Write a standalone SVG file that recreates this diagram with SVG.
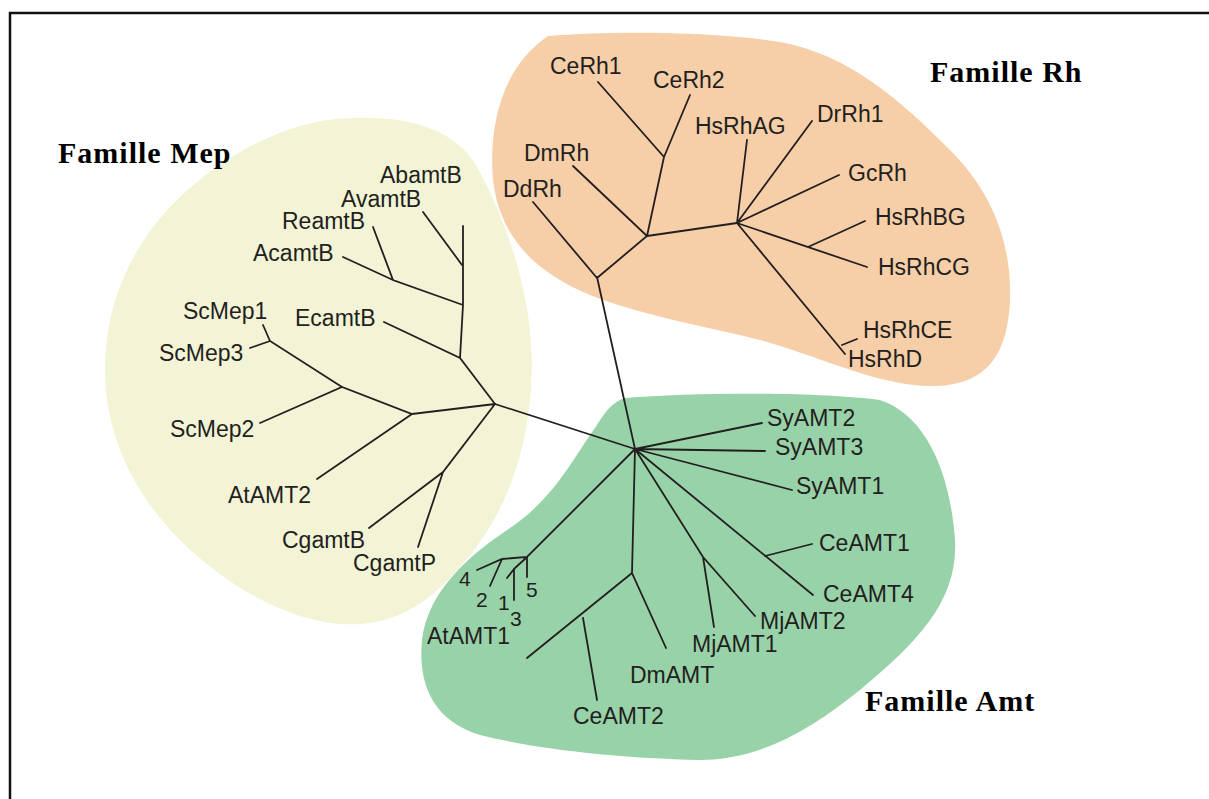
<svg xmlns="http://www.w3.org/2000/svg" width="1209" height="799" viewBox="0 0 1209 799">
<style>
.lab{font-family:"Liberation Sans",Arial,sans-serif;font-size:23px;fill:#231f20}
.num{font-family:"Liberation Sans",Arial,sans-serif;font-size:21px;fill:#231f20}
.fam{font-family:"Liberation Serif","Times New Roman",serif;font-size:30px;font-weight:bold;fill:#000;letter-spacing:1px}
.br{stroke:#231f20;stroke-width:1.8;fill:none;stroke-linecap:round}
</style>
<rect width="1209" height="799" fill="#fff"/>
<g id="frame" stroke="#111" stroke-width="2.5" fill="none">
<path d="M10,799 V13 H1209"/>
</g>
<g id="regions">
<path id="region-mep" fill="#f3f4d6" d="M350,118 C410,115 455,130 476,165 C500,208 530,280 532,360 C532,430 515,500 470,555 C440,592 410,620 360,624 C300,628 230,590 180,540 C130,490 105,430 105,370 C105,300 135,235 190,188 C240,145 295,120 350,118 Z"/>
<path id="region-rh" fill="#f6cea8" d="M548,36 C620,30 720,32 780,42 C850,55 900,100 950,150 C990,190 1012,240 1010,300 C1008,350 990,385 935,386 C880,387 830,360 760,340 C700,325 640,315 590,295 C535,272 500,238 493,180 C488,120 505,65 548,36 Z"/>
<path id="region-amt" fill="#98d2a8" d="M625,398 C700,392 820,392 880,400 C925,415 950,470 955,540 C958,600 920,640 860,690 C810,730 760,760 700,760 C620,758 540,750 480,735 C430,720 418,680 422,640 C428,590 470,555 510,528 C555,498 575,455 595,428 C605,412 612,402 625,398 Z"/>
</g>
<g id="connectors" class="br">
<path d="M495,404 L635,449 M597,277 L635,449"/>
<path d="M597,278 L533,202 M597,278 L647,236 L573,166 M647,236 L664,157 L598,82 M664,157 L690,95 M647,236 L737,223"/>
<path d="M737,223 L747,140 M737,223 L812,121 M737,223 L839,175 M737,223 L867,267 M808,247 L865,221 M737,223 L845,354 M842,345 L857,339"/>
<path d="M495,404 L460,358 L384,322 M460,358 L463,305 L463,226 M462,265 L423,212 M463,305 L393,280 L373,227 M393,280 L343,257"/>
<path d="M495,404 L412,414 L342,387 L260,423 M342,387 L270,341 L263,325 M270,341 L250,348 M412,414 L317,479 M495,404 L443,472 L369,528 M443,472 L418,547"/>
<path d="M635,449 L762,423 M635,449 L765,451 M635,449 L792,490 M635,449 L813,595 M765,556 L812,544 M635,449 L703,557 L755,616 M703,557 L714,627"/>
<path d="M635,449 L632,573 L666,648 M632,573 L527,658 M583,618 L597,700"/>
<path d="M635,449 L527,557 L502,559 L477,570 M502,559 L490,586 M527,557 L527,577 M527,557 L514,569 L514,600 M514,569 L507,578"/>
</g>
<g id="family-mep"><text class="fam" x="58" y="163">Famille Mep</text></g>
<g id="family-rh"><text class="fam" x="930" y="82">Famille Rh</text></g>
<g id="family-amt"><text class="fam" x="865" y="711">Famille Amt</text></g>
<g id="node-CeRh1"><text class="lab" x="550" y="74">CeRh1</text></g>
<g id="node-CeRh2"><text class="lab" x="653" y="88">CeRh2</text></g>
<g id="node-DmRh"><text class="lab" x="524" y="161">DmRh</text></g>
<g id="node-DdRh"><text class="lab" x="503" y="197">DdRh</text></g>
<g id="node-HsRhAG"><text class="lab" x="695" y="134">HsRhAG</text></g>
<g id="node-DrRh1"><text class="lab" x="817" y="122">DrRh1</text></g>
<g id="node-GcRh"><text class="lab" x="848" y="181">GcRh</text></g>
<g id="node-HsRhBG"><text class="lab" x="875" y="225">HsRhBG</text></g>
<g id="node-HsRhCG"><text class="lab" x="878" y="275">HsRhCG</text></g>
<g id="node-HsRhCE"><text class="lab" x="863" y="338">HsRhCE</text></g>
<g id="node-HsRhD"><text class="lab" x="848" y="367">HsRhD</text></g>
<g id="node-AbamtB"><text class="lab" x="380" y="183">AbamtB</text></g>
<g id="node-AvamtB"><text class="lab" x="341" y="207">AvamtB</text></g>
<g id="node-ReamtB"><text class="lab" x="282" y="229">ReamtB</text></g>
<g id="node-AcamtB"><text class="lab" x="253" y="261">AcamtB</text></g>
<g id="node-EcamtB"><text class="lab" x="295" y="326">EcamtB</text></g>
<g id="node-ScMep1"><text class="lab" x="183" y="319">ScMep1</text></g>
<g id="node-ScMep3"><text class="lab" x="159" y="361">ScMep3</text></g>
<g id="node-ScMep2"><text class="lab" x="170" y="437">ScMep2</text></g>
<g id="node-AtAMT2"><text class="lab" x="228" y="503">AtAMT2</text></g>
<g id="node-CgamtB"><text class="lab" x="282" y="548">CgamtB</text></g>
<g id="node-CgamtP"><text class="lab" x="353" y="571">CgamtP</text></g>
<g id="node-SyAMT2"><text class="lab" x="767" y="426">SyAMT2</text></g>
<g id="node-SyAMT3"><text class="lab" x="775" y="455">SyAMT3</text></g>
<g id="node-SyAMT1"><text class="lab" x="796" y="494">SyAMT1</text></g>
<g id="node-CeAMT1"><text class="lab" x="819" y="551">CeAMT1</text></g>
<g id="node-CeAMT4"><text class="lab" x="823" y="602">CeAMT4</text></g>
<g id="node-MjAMT2"><text class="lab" x="760" y="629">MjAMT2</text></g>
<g id="node-MjAMT1"><text class="lab" x="692" y="652">MjAMT1</text></g>
<g id="node-DmAMT"><text class="lab" x="630" y="683">DmAMT</text></g>
<g id="node-CeAMT2"><text class="lab" x="573" y="724">CeAMT2</text></g>
<g id="node-AtAMT1"><text class="lab" x="427" y="644">AtAMT1</text></g>
<g id="node-AtAMT1-4"><text class="num" x="459" y="586">4</text></g>
<g id="node-AtAMT1-2"><text class="num" x="476" y="607">2</text></g>
<g id="node-AtAMT1-1"><text class="num" x="498" y="610">1</text></g>
<g id="node-AtAMT1-3"><text class="num" x="510" y="626">3</text></g>
<g id="node-AtAMT1-5"><text class="num" x="526" y="597">5</text></g>
</svg>
